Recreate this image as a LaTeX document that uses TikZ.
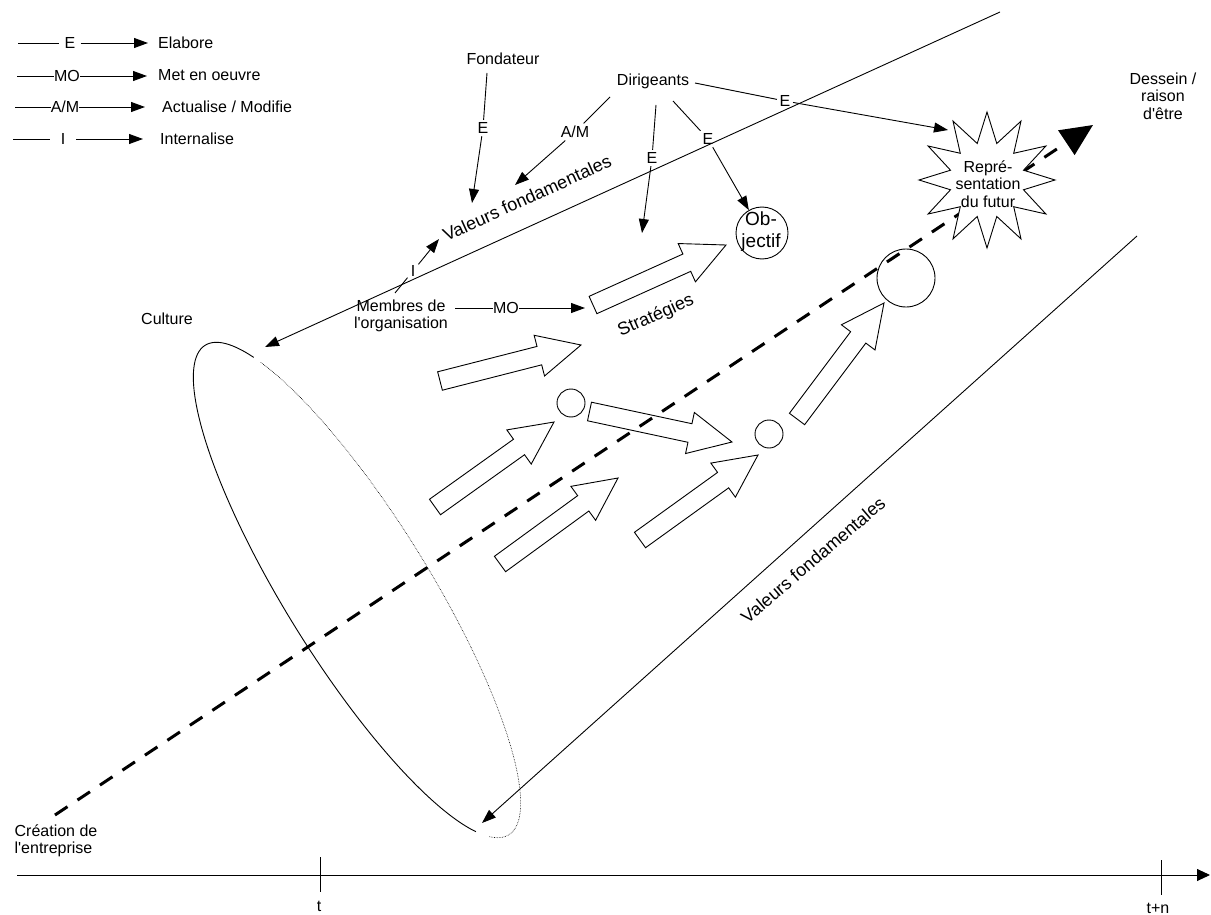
\documentclass[tikz,border=0pt]{standalone}
\usepackage{fontspec}
\setmainfont{Liberation Sans}[Ligatures=TeXOff]
\usetikzlibrary{arrows.meta,calc,shapes.geometric}
\newcommand{\blockarr}[3]{%
  \coordinate (#3n) at ($(#2)!43pt!(#1)$);
  \draw[blk] ($(#1)!9.5pt!90:(#2)$) -- ($(#3n)!9.5pt!-90:(#1)$) -- ($(#3n)!21pt!-90:(#1)$) -- (#2)
     -- ($(#3n)!21pt!90:(#1)$) -- ($(#3n)!9.5pt!90:(#1)$) -- ($(#1)!9.5pt!-90:(#2)$) -- cycle;}
\begin{document}
\begin{tikzpicture}[x=1pt,y=-1pt,
  txt/.style={font=\fontsize{16}{17.5}\selectfont, inner sep=1pt, align=center},
  bigtxt/.style={font=\fontsize{18}{20}\selectfont, inner sep=0pt},
  lbl/.style={font=\fontsize{16}{17.5}\selectfont, inner sep=2.5pt},
  ln/.style={line width=0.9pt},
  arr/.style={ln, -{Triangle[length=14pt,width=10pt]}},
  blk/.style={line width=0.9pt, line join=miter},
  smallc/.style={circle, draw, ln, minimum size=28pt, inner sep=0pt}
]
\useasboundingbox (0,0) rectangle (1211,915);

% ---- legend ----
\coordinate (l1a) at (18,43); \node[lbl, inner sep=5pt] (l1m) at (70,43) {E}; \coordinate (l1b) at (148,43);
\draw[ln] (l1a) -- (l1m); \draw[arr] (l1m) -- (l1b);
\node[txt, anchor=west, inner sep=0pt] (l1t) at (158,43) {Elabore};

\coordinate (l2a) at (17,76); \node[lbl, inner sep=0pt] (l2m) at (67,76) {MO}; \coordinate (l2b) at (147,76);
\draw[ln] (l2a) -- (l2m); \draw[arr] (l2m) -- (l2b);
\node[txt, anchor=west, inner sep=0pt] (l2t) at (158,75) {Met en oeuvre};

\coordinate (l3a) at (15,107); \node[lbl, inner sep=0pt] (l3m) at (65,107) {A/M}; \coordinate (l3b) at (145,107);
\draw[ln] (l3a) -- (l3m); \draw[arr] (l3m) -- (l3b);
\node[txt, anchor=west, inner sep=0pt] (l3t) at (162,107) {Actualise / Modifie};

\coordinate (l4a) at (13,139); \node[lbl, inner sep=11pt] (l4m) at (63,139) {I}; \coordinate (l4b) at (143,139);
\draw[ln] (l4a) -- (l4m); \draw[arr] (l4m) -- (l4b);
\node[txt, anchor=west, inner sep=0pt] (l4t) at (160,139) {Internalise};

% ---- main dashed axis ----
\coordinate (dS) at (55,815); \coordinate (dE) at (1093,125);
\draw[line width=3pt, dash pattern=on 15pt off 12pt, -{Triangle[length=32pt,width=29pt]}] (dS) -- (dE);

% ---- cone ----
\draw[ln] plot[domain=21.5:208.9, samples=90, smooth] ({357+151.8*cos(\x)-61.2*sin(\x)},{590+244.8*cos(\x)+37.9*sin(\x)});
\draw[line width=0.6pt, densely dotted] plot[domain=212:374.6, samples=90, smooth] ({357+151.8*cos(\x)-61.2*sin(\x)},{590+244.8*cos(\x)+37.9*sin(\x)});
\coordinate (cT1) at (1000,12); \coordinate (cT2) at (265,347);
\draw[arr] (cT1) -- (cT2);
\coordinate (cB1) at (1137,236); \coordinate (cB2) at (482,823);
\draw[arr] (cB1) -- (cB2);

% ---- star ----
\node[star, star points=12, star point ratio=1.8, minimum size=136pt, inner sep=0pt, draw, ln, fill=white] (star) at (987,180) {};
\node[txt] (starT) at (988,184) {Repré-\\sentation\\du futur};

% ---- texts ----
\node[txt] (fond) at (503,59) {Fondateur};
\node[txt] (dir) at (653,81) {Dirigeants};
\node[txt] (dess) at (1163,96) {Dessein /\\raison\\d'être};
\node[txt] (cult) at (167,319) {Culture};
\node[txt] (memb) at (401,316) {Membres de\\l'organisation};
\node[txt, align=left] (crea) at (56,841) {Création de\\l'entreprise};
\node[bigtxt, rotate=24.5] (val1) at (527,198) {Valeurs fondamentales};
\node[bigtxt, rotate=40.5] (val2) at (813,560) {Valeurs fondamentales};
\node[bigtxt, rotate=24] (strat) at (656,316) {Stratégies};

% ---- Objectif ----
\node[circle, draw, ln, minimum size=52pt, inner sep=0pt] (obj) at (762,233) {};
\node[font=\fontsize{19}{22}\selectfont, align=center, inner sep=0pt] (objT) at (761,232) {Ob-\\jectif};

% ---- circles ----
\node[smallc] (c1) at (571,403) {};
\node[smallc] (c2) at (769,434) {};
\node[circle, draw, ln, minimum size=58pt, inner sep=0pt] (c3) at (906,278) {};

% ---- block arrows ----
\coordinate (a1s) at (593,305);   \coordinate (a1e) at (726,245);
\coordinate (a2s) at (440,381);   \coordinate (a2e) at (581,345);
\coordinate (a3s) at (435,507);   \coordinate (a3e) at (554,422);
\coordinate (a4s) at (589.5,411.5); \coordinate (a4e) at (732,442);
\coordinate (a5s) at (500,564);   \coordinate (a5e) at (618,478);
\coordinate (a6s) at (640,540);   \coordinate (a6e) at (758,455);
\coordinate (a7s) at (797,419);   \coordinate (a7e) at (884,303);
\blockarr{a1s}{a1e}{b1}
\blockarr{a2s}{a2e}{b2}
\blockarr{a3s}{a3e}{b3}
\blockarr{a4s}{a4e}{b4}
\blockarr{a5s}{a5e}{b5}
\blockarr{a6s}{a6e}{b6}
\blockarr{a7s}{a7e}{b7}

% ---- connectors with labels ----
\coordinate (fS) at (487,73); \node[lbl] (eF) at (483,128) {E}; \coordinate (fE) at (472,203);
\draw[ln] (fS) -- (eF); \draw[arr] (eF) -- (fE);

\coordinate (amS) at (610,97); \node[lbl] (eAM) at (575,132) {A/M}; \coordinate (amE) at (515,185);
\draw[ln] (amS) -- (eAM); \draw[arr] (eAM) -- (amE);

\coordinate (e2S) at (656,105); \node[lbl] (eE2) at (652,158) {E}; \coordinate (e2E) at (642,233);
\draw[ln] (e2S) -- (eE2); \draw[arr] (eE2) -- (e2E);

\coordinate (e3S) at (673,101); \node[lbl] (eE3) at (708,139) {E};
\draw[ln] (e3S) -- (eE3); \draw[arr] (eE3) -- (obj);

\coordinate (e4S) at (695,83); \node[lbl] (eE4) at (785,101) {E}; \coordinate (e4E) at (948,130);
\draw[ln] (e4S) -- (eE4); \draw[arr] (eE4) -- (e4E);

\coordinate (iS) at (395,293); \node[lbl, inner sep=3pt] (eI) at (413,271) {I}; \coordinate (iE) at (439,239);
\draw[ln] (iS) -- (eI); \draw[arr] (eI) -- (iE);

\coordinate (moS) at (455,308); \node[lbl, inner sep=0pt] (eMO) at (506,308) {MO}; \coordinate (moE) at (585,308);
\draw[ln] (moS) -- (eMO); \draw[arr] (eMO) -- (moE);

% ---- time axis ----
\coordinate (ax0) at (17,875); \coordinate (ax1) at (1210,875);
\draw[ln, -{Triangle[length=13pt,width=12pt]}] (ax0) -- (ax1);
\coordinate (tk1a) at (320,857); \coordinate (tk1b) at (320,892);
\coordinate (tk2a) at (1161,860); \coordinate (tk2b) at (1161,895);
\draw[ln] (tk1a) -- (tk1b);
\draw[ln] (tk2a) -- (tk2b);
\node[txt] (tl1) at (319,906) {t};
\node[txt] (tl2) at (1158,908) {t+n};
\end{tikzpicture}
\end{document}
